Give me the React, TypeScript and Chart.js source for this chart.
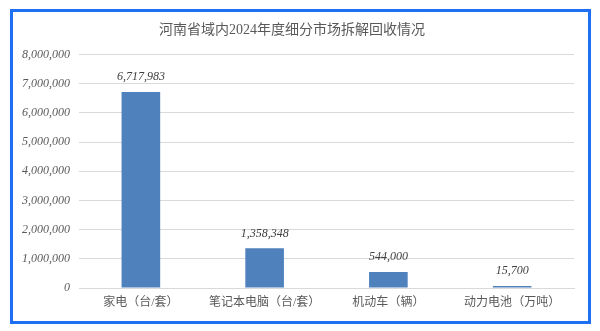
import React, { useEffect, useRef } from "react";
import { Chart, registerables } from "chart.js";

Chart.register(...registerables);

const TITLE = "河南省域内2024年度细分市场拆解回收情况";
const categories = ["家电（台/套）", "笔记本电脑（台/套）", "机动车（辆）", "动力电池（万吨）"];
const values = [6717983, 1358348, 544000, 15700];
const yMin = 0;
const yMax = 8000000;
const yStep = 1000000;

const FONT = '"Liberation Serif", "Noto Sans CJK SC", serif';

const fmt = (v: number) => Math.round(v).toLocaleString("en-US");

const titlePlugin = {
  id: "customTitle",
  afterDraw(chart: any) {
    const ctx = chart.ctx;
    ctx.save();
    ctx.font = `14px ${FONT}`;
    ctx.fillStyle = "#595959";
    ctx.textAlign = "center";
    ctx.textBaseline = "middle";
    ctx.fillText(TITLE, 279, 18);
    ctx.restore();
  },
};

const dataLabelPlugin = {
  id: "dataLabels",
  afterDatasetsDraw(chart: any) {
    const ctx = chart.ctx;
    const meta = chart.getDatasetMeta(0);
    const ds = chart.data.datasets[0];
    ctx.save();
    ctx.font = `italic 12px ${FONT}`;
    ctx.fillStyle = "#404040";
    ctx.textAlign = "center";
    ctx.textBaseline = "middle";
    meta.data.forEach((bar: any, i: number) => {
      const top = Math.min(bar.y, bar.base - 2);
      ctx.fillText(fmt(ds.data[i]), bar.x, top - 15);
    });
    ctx.restore();
  },
};

export default function App() {
  const ref = useRef<HTMLCanvasElement>(null);

  useEffect(() => {
    if (!ref.current) return;
    const chart = new Chart(ref.current, {
      type: "bar",
      data: {
        labels: categories,
        datasets: [
          {
            data: values,
            backgroundColor: "#4f81bd",
            borderWidth: 0,
            barPercentage: 0.312,
            categoryPercentage: 1,
            minBarLength: 2,
          },
        ],
      },
      options: {
        animation: false,
        responsive: false,
        maintainAspectRatio: false,
        layout: { padding: { top: 42.5, right: 14, bottom: 0, left: 0 } },
        plugins: {
          legend: { display: false },
          title: { display: false },
          tooltip: { enabled: false },
        },
        scales: {
          x: {
            grid: { display: false, drawTicks: false },
            border: { display: true, color: "#d9d9d9", width: 1 },
            ticks: {
              color: "#595959",
              font: { family: FONT, size: 12 },
              padding: 8,
              maxRotation: 0,
              autoSkip: false,
            },
            afterFit: (s: any) => {
              s.height = 33;
            },
          },
          y: {
            min: yMin,
            max: yMax,
            grid: { color: "#d9d9d9", lineWidth: 1, drawTicks: false },
            border: { display: false },
            ticks: {
              stepSize: yStep,
              color: "#595959",
              font: { family: FONT, size: 12, style: "italic" },
              padding: 9,
              callback: (v: any) => fmt(Number(v)),
            },
            afterFit: (s: any) => {
              s.width = 66;
            },
          },
        },
      },
      plugins: [titlePlugin, dataLabelPlugin],
    });
    return () => chart.destroy();
  }, []);

  return (
    <div
      style={{
        position: "fixed",
        left: 0,
        top: 0,
        width: 600,
        height: 331,
        background: "#ffffff",
      }}
    >
      <div
        style={{
          position: "absolute",
          left: 10,
          top: 9,
          width: 581,
          height: 315,
          boxSizing: "border-box",
          border: "3px solid #1f6ff2",
          background: "#ffffff",
        }}
      >
        <canvas ref={ref} width={575} height={309} style={{ display: "block", width: 575, height: 309 }} />
      </div>
    </div>
  );
}
